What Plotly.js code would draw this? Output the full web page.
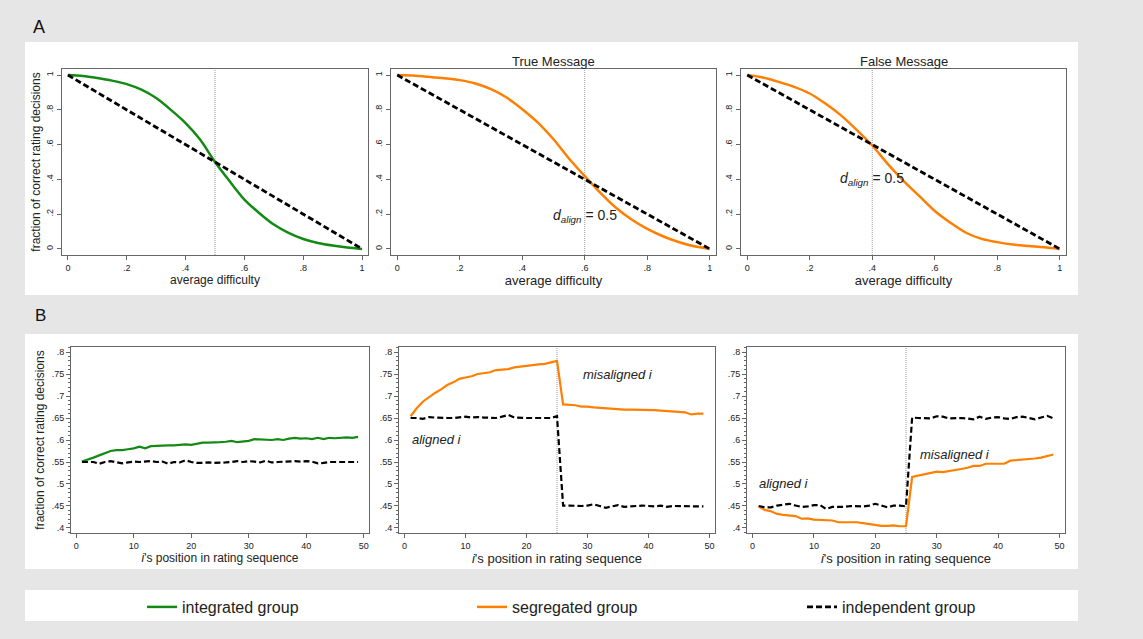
<!DOCTYPE html>
<html>
<head>
<meta charset="utf-8">
<script src="https://cdn.plot.ly/plotly-3.0.1.min.js"></script>
<style>
html,body{margin:0;padding:0;background:#e6e6e6;}
#chart{width:1143px;height:639px;}
</style>
</head>
<body>
<div id="chart"></div>
<script>
// ---------- DATA ----------
// Panel A: average difficulty
var difficulty = [0, 0.05, 0.1, 0.15, 0.2, 0.25, 0.3, 0.35, 0.4, 0.45, 0.5, 0.55, 0.6, 0.65, 0.7, 0.75, 0.8, 0.85, 0.9, 0.95, 1];
var integratedA = [1, 0.995, 0.983, 0.968, 0.948, 0.916, 0.868, 0.800, 0.724, 0.628, 0.500, 0.389, 0.284, 0.207, 0.140, 0.092, 0.057, 0.034, 0.019, 0.008, 0];
var segregatedTrue = [1, 0.997, 0.990, 0.982, 0.971, 0.952, 0.919, 0.871, 0.804, 0.727, 0.631, 0.519, 0.419, 0.323, 0.237, 0.169, 0.115, 0.073, 0.040, 0.015, 0];
var segregatedFalse = [1, 0.986, 0.961, 0.932, 0.894, 0.836, 0.768, 0.685, 0.595, 0.488, 0.392, 0.305, 0.218, 0.151, 0.093, 0.058, 0.039, 0.025, 0.017, 0.010, 0];
var independentAX = [0, 1];
var independentAY = [1, 0];
var alignPoints = [0.5, 0.6, 0.4];          // dotted reference lines, panel A
var panelATitles = ["", "True Message", "False Message"];

// Panel B: position in rating sequence
var position = [1,2,3,4,5,6,7,8,9,10,11,12,13,14,15,16,17,18,19,20,21,22,23,24,25,26,27,28,29,30,31,32,33,34,35,36,37,38,39,40,41,42,43,44,45,46,47,48,49];
var integratedB = [0.551,0.555,0.560,0.565,0.570,0.575,0.577,0.577,0.579,0.581,0.585,0.581,0.586,0.587,0.588,0.588,0.588,0.589,0.590,0.589,0.592,0.594,0.594,0.594,0.595,0.596,0.598,0.595,0.597,0.598,0.602,0.601,0.601,0.600,0.602,0.600,0.603,0.605,0.603,0.604,0.602,0.605,0.602,0.605,0.604,0.605,0.606,0.605,0.607];
var independentB1 = [0.550,0.550,0.550,0.546,0.550,0.552,0.550,0.547,0.549,0.551,0.550,0.551,0.552,0.550,0.551,0.546,0.550,0.549,0.554,0.550,0.548,0.548,0.549,0.548,0.548,0.549,0.550,0.552,0.550,0.552,0.551,0.549,0.553,0.549,0.550,0.551,0.551,0.552,0.551,0.552,0.551,0.547,0.548,0.550,0.550,0.550,0.551,0.550,0.550];
var segregatedB2 = [0.654,0.672,0.687,0.698,0.707,0.715,0.725,0.731,0.739,0.742,0.745,0.750,0.752,0.754,0.759,0.760,0.761,0.765,0.767,0.768,0.770,0.772,0.773,0.776,0.780,0.681,0.680,0.679,0.676,0.676,0.674,0.673,0.672,0.671,0.669,0.669,0.669,0.669,0.668,0.668,0.668,0.667,0.666,0.666,0.664,0.663,0.658,0.660,0.660];
var independentB2 = [0.650,0.650,0.648,0.652,0.651,0.650,0.650,0.650,0.652,0.653,0.651,0.652,0.651,0.650,0.650,0.653,0.657,0.651,0.650,0.650,0.650,0.650,0.650,0.650,0.654,0.451,0.451,0.450,0.450,0.451,0.454,0.450,0.446,0.449,0.452,0.448,0.449,0.451,0.451,0.450,0.449,0.451,0.448,0.450,0.450,0.450,0.450,0.450,0.449];
var segregatedB3 = [0.449,0.441,0.438,0.432,0.430,0.429,0.427,0.421,0.422,0.419,0.418,0.417,0.417,0.413,0.413,0.413,0.413,0.411,0.409,0.407,0.405,0.405,0.406,0.404,0.404,0.516,0.519,0.522,0.525,0.528,0.527,0.529,0.532,0.534,0.537,0.541,0.541,0.546,0.546,0.546,0.546,0.553,0.554,0.555,0.557,0.558,0.560,0.563,0.567];
var independentB3 = [0.450,0.447,0.447,0.451,0.453,0.455,0.451,0.448,0.449,0.452,0.452,0.443,0.448,0.448,0.448,0.450,0.450,0.449,0.451,0.455,0.451,0.447,0.451,0.451,0.449,0.651,0.650,0.649,0.649,0.654,0.653,0.649,0.650,0.650,0.649,0.647,0.653,0.648,0.651,0.652,0.649,0.648,0.652,0.653,0.650,0.647,0.651,0.655,0.649];
var switchPoint = 25;                        // dotted reference line, panel B

// Tick labels
var tickValsA = [0, 0.2, 0.4, 0.6, 0.8, 1];
var tickTextA = ["0", ".2", ".4", ".6", ".8", "1"];
var tickValsBy = [0.4, 0.45, 0.5, 0.55, 0.6, 0.65, 0.7, 0.75, 0.8];
var tickTextBy = [".4", ".45", ".5", ".55", ".6", ".65", ".7", ".75", ".8"];
var tickValsBx = [0, 10, 20, 30, 40, 50];
var tickTextBx = ["0", "10", "20", "30", "40", "50"];

var groupNames = ["integrated group", "segregated group", "independent group"];

// ---------- STYLE ----------
var W = 1143, H = 639;
var GREEN = '#138a13', ORANGE = '#ff7f00', BLACK = '#000000';
var FONT = 'Liberation Sans, Arial, sans-serif';
var AXC = '#666666';
function px(x){ return x / W; }
function py(y){ return 1 - y / H; }

var dashStyle = '6px,3px';
var refLine = {color:'#9a9a9a', width:1, dash:'1px,1px'};

var traces = [];
function add(t){ traces.push(t); }

// Panel A
add({x: difficulty, y: integratedA, xaxis:'x', yaxis:'y', mode:'lines', line:{color:GREEN, width:2.5, shape:'spline', smoothing:0.8}, name:groupNames[0], legendrank:1, showlegend:true});
add({x: independentAX, y: independentAY, xaxis:'x', yaxis:'y', mode:'lines', line:{color:BLACK, width:2.8, dash:dashStyle}, name:groupNames[2], legendrank:3, showlegend:true});
add({x: difficulty, y: segregatedTrue, xaxis:'x2', yaxis:'y2', mode:'lines', line:{color:ORANGE, width:2.5, shape:'spline', smoothing:0.8}, name:groupNames[1], legendrank:2, showlegend:true});
add({x: independentAX, y: independentAY, xaxis:'x2', yaxis:'y2', mode:'lines', line:{color:BLACK, width:2.8, dash:dashStyle}, name:groupNames[2], showlegend:false});
add({x: difficulty, y: segregatedFalse, xaxis:'x3', yaxis:'y3', mode:'lines', line:{color:ORANGE, width:2.5, shape:'spline', smoothing:0.8}, name:groupNames[1], showlegend:false});
add({x: independentAX, y: independentAY, xaxis:'x3', yaxis:'y3', mode:'lines', line:{color:BLACK, width:2.8, dash:dashStyle}, name:groupNames[2], showlegend:false});

// Panel B
add({x: position, y: integratedB, xaxis:'x4', yaxis:'y4', mode:'lines', line:{color:GREEN, width:2.2}, name:groupNames[0], showlegend:false});
add({x: position, y: independentB1, xaxis:'x4', yaxis:'y4', mode:'lines', line:{color:BLACK, width:2.2, dash:dashStyle}, name:groupNames[2], showlegend:false});
add({x: position, y: segregatedB2, xaxis:'x5', yaxis:'y5', mode:'lines', line:{color:ORANGE, width:2.2}, name:groupNames[1], showlegend:false});
add({x: position, y: independentB2, xaxis:'x5', yaxis:'y5', mode:'lines', line:{color:BLACK, width:2.2, dash:dashStyle}, name:groupNames[2], showlegend:false});
add({x: position, y: segregatedB3, xaxis:'x6', yaxis:'y6', mode:'lines', line:{color:ORANGE, width:2.2}, name:groupNames[1], showlegend:false});
add({x: position, y: independentB3, xaxis:'x6', yaxis:'y6', mode:'lines', line:{color:BLACK, width:2.2, dash:dashStyle}, name:groupNames[2], showlegend:false});

// Axes
function xAxisA(dom, anchor, tsize){
  return {domain:dom, anchor:anchor, range:[-0.02, 1.02], tickvals:tickValsA, ticktext:tickTextA,
    ticks:'outside', ticklen:4, tickcolor:AXC, tickfont:{family:FONT, size:9, color:'#222'},
    showline:true, mirror:true, linecolor:AXC, linewidth:1, showgrid:false, zeroline:false,
    title:{text:'average difficulty', font:{family:FONT, size:tsize, color:'#222'}, standoff:1}};
}
function yAxisA(dom, anchor, withTitle){
  var a = {domain:dom, anchor:anchor, range:[-0.035, 1.035], tickvals:tickValsA, ticktext:tickTextA, tickangle:-90,
    ticks:'outside', ticklen:4, tickcolor:AXC, tickfont:{family:FONT, size:9, color:'#222'},
    showline:true, mirror:true, linecolor:AXC, linewidth:1, showgrid:false, zeroline:false};
  if(withTitle) a.title = {text:'fraction of correct rating decisions', font:{family:FONT, size:12, color:'#222'}, standoff:2};
  return a;
}
function xAxisB(dom, anchor, tsize){
  return {domain:dom, anchor:anchor, range:[-0.9, 50.9], tickvals:tickValsBx, ticktext:tickTextBx,
    ticks:'outside', ticklen:4, tickcolor:AXC, tickfont:{family:FONT, size:9, color:'#222'},
    showline:true, mirror:true, linecolor:AXC, linewidth:1, showgrid:false, zeroline:false,
    title:{text:"<i>i</i>'s position in rating sequence", font:{family:FONT, size:tsize, color:'#222'}, standoff:1}};
}
function yAxisB(dom, anchor, withTitle){
  var a = {domain:dom, anchor:anchor, range:[0.3886, 0.8114], tickvals:tickValsBy, ticktext:tickTextBy,
    ticks:'outside', ticklen:4, tickcolor:AXC, tickfont:{family:FONT, size:9, color:'#222'},
    minor:{dtick:0.01, ticks:'outside', ticklen:2, tickcolor:AXC, showgrid:false},
    showline:true, mirror:true, linecolor:AXC, linewidth:1, showgrid:false, zeroline:false};
  if(withTitle) a.title = {text:'fraction of correct rating decisions', font:{family:FONT, size:12, color:'#222'}, standoff:4};
  return a;
}

var yDomA = [py(255), py(69)];
var yDomB = [py(533), py(347)];

var layout = {
  width:W, height:H,
  paper_bgcolor:'#e6e6e6', plot_bgcolor:'#ffffff',
  margin:{l:0, r:0, t:0, b:0},
  font:{family:FONT, color:'#222'},
  xaxis: xAxisA([px(62), px(368)], 'y', 12),
  yaxis: yAxisA(yDomA, 'x', true),
  xaxis2: xAxisA([px(391), px(716)], 'y2', 13),
  yaxis2: yAxisA(yDomA, 'x2', false),
  xaxis3: xAxisA([px(741), px(1066)], 'y3', 13),
  yaxis3: yAxisA(yDomA, 'x3', false),
  xaxis4: xAxisB([px(71), px(369)], 'y4', 12),
  yaxis4: yAxisB(yDomB, 'x4', true),
  xaxis5: xAxisB([px(399), px(715)], 'y5', 13),
  yaxis5: yAxisB(yDomB, 'x5', false),
  xaxis6: xAxisB([px(747), px(1065)], 'y6', 13),
  yaxis6: yAxisB(yDomB, 'x6', false),
  showlegend:true,
  legend:{orientation:'h', x:px(142), xanchor:'left', y:py(607), yanchor:'middle',
    bgcolor:'rgba(0,0,0,0)', borderwidth:0, entrywidth:285, entrywidthmode:'pixels',
    font:{family:FONT, size:16, color:'#222'}, traceorder:'normal'},
  shapes:[
    {type:'rect', xref:'paper', yref:'paper', x0:px(25), x1:px(1078), y0:py(295), y1:py(42), fillcolor:'#ffffff', line:{width:0}, layer:'below'},
    {type:'rect', xref:'paper', yref:'paper', x0:px(25), x1:px(1078), y0:py(569), y1:py(334), fillcolor:'#ffffff', line:{width:0}, layer:'below'},
    {type:'rect', xref:'paper', yref:'paper', x0:px(25), x1:px(1078), y0:py(621), y1:py(590), fillcolor:'#ffffff', line:{width:0}, layer:'below'},
    {type:'line', xref:'x', yref:'y domain', x0:alignPoints[0], x1:alignPoints[0], y0:0, y1:1, line:refLine, layer:'below'},
    {type:'line', xref:'x2', yref:'y2 domain', x0:alignPoints[1], x1:alignPoints[1], y0:0, y1:1, line:refLine, layer:'below'},
    {type:'line', xref:'x3', yref:'y3 domain', x0:alignPoints[2], x1:alignPoints[2], y0:0, y1:1, line:refLine, layer:'below'},
    {type:'line', xref:'x5', yref:'y5 domain', x0:switchPoint, x1:switchPoint, y0:0, y1:1, line:refLine, layer:'below'},
    {type:'line', xref:'x6', yref:'y6 domain', x0:switchPoint, x1:switchPoint, y0:0, y1:1, line:refLine, layer:'below'}
  ],
  annotations:[
    {text:'A', xref:'paper', yref:'paper', x:px(31), y:py(27), xanchor:'left', yanchor:'middle', showarrow:false, font:{family:FONT, size:18, color:'#111'}},
    {text:'B', xref:'paper', yref:'paper', x:px(33), y:py(315), xanchor:'left', yanchor:'middle', showarrow:false, font:{family:FONT, size:17, color:'#111'}},
    {text:panelATitles[1], xref:'x2 domain', yref:'paper', x:0.5, y:py(62), xanchor:'center', yanchor:'middle', showarrow:false, font:{family:FONT, size:13, color:'#222'}},
    {text:panelATitles[2], xref:'x3 domain', yref:'paper', x:0.5, y:py(62), xanchor:'center', yanchor:'middle', showarrow:false, font:{family:FONT, size:13, color:'#222'}},
    {text:'<i>d</i><sub><i>align</i></sub> = 0.5', xref:'x2', yref:'y2', x:alignPoints[1], y:0.19, xanchor:'center', yanchor:'middle', showarrow:false, font:{family:FONT, size:14, color:'#222'}},
    {text:'<i>d</i><sub><i>align</i></sub> = 0.5', xref:'x3', yref:'y3', x:alignPoints[2], y:0.40, xanchor:'center', yanchor:'middle', showarrow:false, font:{family:FONT, size:14, color:'#222'}},
    {text:'<i>misaligned i</i>', xref:'x5', yref:'y5', x:35, y:0.75, xanchor:'center', yanchor:'middle', showarrow:false, font:{family:FONT, size:13, color:'#222'}},
    {text:'<i>aligned i</i>', xref:'x5', yref:'y5', x:5.3, y:0.60, xanchor:'center', yanchor:'middle', showarrow:false, font:{family:FONT, size:13, color:'#222'}},
    {text:'<i>aligned i</i>', xref:'x6', yref:'y6', x:5.2, y:0.50, xanchor:'center', yanchor:'middle', showarrow:false, font:{family:FONT, size:13, color:'#222'}},
    {text:'<i>misaligned i</i>', xref:'x6', yref:'y6', x:33, y:0.568, xanchor:'center', yanchor:'middle', showarrow:false, font:{family:FONT, size:13, color:'#222'}}
  ]
};

Plotly.newPlot('chart', traces, layout, {displayModeBar:false, staticPlot:true});
</script>
</body>
</html>
